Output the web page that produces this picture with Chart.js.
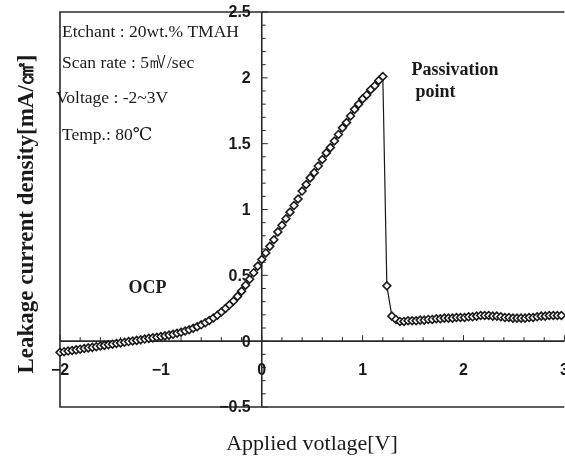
<!DOCTYPE html>
<html>
<head>
<meta charset="utf-8">
<script src="https://cdn.jsdelivr.net/npm/chart.js@4/dist/chart.umd.min.js"></script>
<style>
  html, body { margin: 0; padding: 0; background: #fff; overflow: hidden; }
  #wrap { width: 570px; height: 457px; }
</style>
</head>
<body>
<div id="wrap"><canvas id="chart" width="570" height="457"></canvas></div>
<script>

// OCP-Bereich: -2 V bis knapp 0 V
const rampVoltage = [
  -2.00, -1.96, -1.92, -1.88, -1.84, -1.80, -1.76, -1.72, -1.68, -1.64,
  -1.60, -1.56, -1.52, -1.48, -1.44, -1.40, -1.36, -1.32, -1.28, -1.24,
  -1.20, -1.16, -1.12, -1.08, -1.04, -1.00, -0.96, -0.92, -0.88, -0.84,
  -0.80, -0.76, -0.72, -0.68, -0.64, -0.60, -0.56, -0.52, -0.48, -0.44,
  -0.40, -0.36, -0.32, -0.28, -0.24, -0.20, -0.16, -0.12, -0.08, -0.04,
];
const rampCurrent = [
  -0.085, -0.080, -0.075, -0.071, -0.066, -0.061, -0.056, -0.051, -0.047, -0.042,
  -0.037, -0.032, -0.027, -0.023, -0.018, -0.013, -0.008, -0.003, 0.001, 0.006,
  0.011, 0.016, 0.021, 0.025, 0.030, 0.035, 0.040, 0.046, 0.052, 0.060,
  0.068, 0.077, 0.087, 0.098, 0.110, 0.124, 0.140, 0.157, 0.176, 0.197,
  0.222, 0.248, 0.276, 0.305, 0.340, 0.380, 0.425, 0.470, 0.520, 0.570,
];

// aktiver Bereich bis zum Passivierungspunkt
const activeVoltage = [
  0.00, 0.04, 0.08, 0.12, 0.16, 0.20, 0.24, 0.28, 0.32, 0.36,
  0.40, 0.44, 0.48, 0.52, 0.56, 0.60, 0.64, 0.68, 0.72, 0.76,
  0.80, 0.84, 0.88, 0.92, 0.96, 1.00, 1.04, 1.08, 1.12, 1.16, 1.20,
];
const activeCurrent = [
  0.62, 0.67, 0.72, 0.77, 0.83, 0.88, 0.93, 0.98, 1.03, 1.08,
  1.14, 1.19, 1.24, 1.28, 1.33, 1.38, 1.43, 1.47, 1.52, 1.57,
  1.62, 1.66, 1.71, 1.76, 1.80, 1.84, 1.87, 1.91, 1.94, 1.98, 2.01,
];

// passiver Bereich
const passiveVoltage = [
  1.24, 1.29, 1.33, 1.37, 1.41, 1.45, 1.49, 1.53, 1.57, 1.61,
  1.65, 1.69, 1.73, 1.77, 1.81, 1.85, 1.89, 1.93, 1.97, 2.01,
  2.05, 2.09, 2.13, 2.17, 2.21, 2.25, 2.29, 2.33, 2.37, 2.41,
  2.45, 2.49, 2.53, 2.57, 2.61, 2.65, 2.69, 2.73, 2.77, 2.81,
  2.85, 2.89, 2.93, 2.97,
];
const passiveCurrent = [
  0.42, 0.19, 0.165, 0.150, 0.150, 0.155, 0.155, 0.155, 0.160, 0.160,
  0.165, 0.165, 0.170, 0.170, 0.175, 0.175, 0.175, 0.180, 0.180, 0.180,
  0.185, 0.185, 0.190, 0.195, 0.195, 0.195, 0.190, 0.190, 0.185, 0.180,
  0.180, 0.175, 0.175, 0.175, 0.175, 0.180, 0.180, 0.185, 0.190, 0.190,
  0.195, 0.195, 0.195, 0.195,
];

// ── Achsen ────────────────────────────────────────────────────────────────

const xTickValues = [-2, -1, 0, 1, 2, 3];
const xTickLabels = ['\u22122', '\u22121', '0', '1', '2', '3'];
const yTickValues = [-0.5, 0, 0.5, 1, 1.5, 2, 2.5];
const yTickLabels = ['\u22120.5', '0', '0.5', '1', '1.5', '2', '2.5'];

const xTitle = 'Applied votlage[V]';
const yTitle = 'Leakage current density[mA/\u33A0]';

const notes = [
  { text: 'Etchant : 20wt.% TMAH', x: -1.98, y: 2.31, bold: false },
  { text: 'Scan rate : 5\u33B7/sec', x: -1.98, y: 2.075, bold: false },
  { text: 'Voltage : -2~3V', x: -2.04, y: 1.81, bold: false },
  { text: 'Temp.: 80\u2103', x: -1.98, y: 1.53, bold: false },
  { text: 'Passivation', x: 1.485, y: 2.02, bold: true },
  { text: 'point', x: 1.525, y: 1.855, bold: true },
  { text: 'OCP', x: -1.32, y: 0.365, bold: true },
];

const INK = '#1a1a1a';
const SERIF = '"Liberation Serif", "DejaVu Serif", serif';
const SANS = '"Liberation Sans", Arial, sans-serif';

const toPoints = (xs, ys) => xs.map((x, i) => ({ x, y: ys[i] }));
const points = [
  ...toPoints(rampVoltage, rampCurrent),
  ...toPoints(activeVoltage, activeCurrent),
  ...toPoints(passiveVoltage, passiveCurrent),
];

// ── Rahmen, Achsenkreuz, Beschriftung ─────────────────────────────────────

const axesPlugin = {
  id: 'crossAxes',
  beforeDatasetsDraw(chart) {
    const { ctx, chartArea: a, scales: { x, y } } = chart;
    const x0 = x.getPixelForValue(0);
    const y0 = y.getPixelForValue(0);

    ctx.save();
    ctx.strokeStyle = '#2a2a2a';
    ctx.lineWidth = 1.6;

    // Rahmen (rechts liegt ausserhalb des Bildes)
    ctx.beginPath();
    ctx.moveTo(a.right, a.top);
    ctx.lineTo(a.left, a.top);
    ctx.lineTo(a.left, a.bottom);
    ctx.lineTo(a.right, a.bottom);
    ctx.stroke();

    // Achsen durch den Nullpunkt
    ctx.beginPath();
    ctx.moveTo(a.left, y0);
    ctx.lineTo(a.right, y0);
    ctx.moveTo(x0, a.top);
    ctx.lineTo(x0, a.bottom);
    ctx.stroke();

    // Teilstriche
    ctx.lineWidth = 1;
    ctx.beginPath();
    for (let i = 0; i <= 25; i++) {
      const v = -2 + i * 0.2;
      const px = x.getPixelForValue(v);
      const len = i % 5 === 0 ? 6 : 4;
      ctx.moveTo(px, y0);
      ctx.lineTo(px, y0 - len);
    }
    for (let i = 0; i <= 30; i++) {
      const v = -0.5 + i * 0.1;
      const py = y.getPixelForValue(v);
      const len = i % 5 === 0 ? 6 : 4;
      ctx.moveTo(x0, py);
      ctx.lineTo(x0 + len, py);
    }
    ctx.stroke();

    // Achsenbeschriftung
    ctx.fillStyle = INK;
    ctx.font = 'bold 16px ' + SANS;
    ctx.textAlign = 'center';
    ctx.textBaseline = 'top';
    xTickValues.forEach((v, i) => {
      ctx.fillText(xTickLabels[i], x.getPixelForValue(v), y0 + 21);
    });
    ctx.textAlign = 'right';
    ctx.textBaseline = 'middle';
    yTickValues.forEach((v, i) => {
      ctx.fillText(yTickLabels[i], x0 - 11, y.getPixelForValue(v) + 1);
    });

    // Titel
    ctx.textAlign = 'center';
    ctx.textBaseline = 'alphabetic';
    ctx.font = '22px ' + SERIF;
    ctx.fillText(xTitle, 312, 450);

    ctx.save();
    ctx.translate(33, 214);
    ctx.rotate(-Math.PI / 2);
    ctx.font = 'bold 23px ' + SERIF;
    ctx.fillText(yTitle, 0, 0);
    ctx.restore();

    // Anmerkungen
    ctx.textAlign = 'left';
    notes.forEach(n => {
      ctx.font = (n.bold ? 'bold 18px ' : '17.5px ') + SERIF;
      ctx.fillText(n.text, x.getPixelForValue(n.x), y.getPixelForValue(n.y));
    });
    ctx.restore();
  },
};

new Chart(document.getElementById('chart'), {
  type: 'scatter',
  data: {
    datasets: [{
      data: points,
      showLine: true,
      borderColor: INK,
      borderWidth: 1.2,
      pointStyle: 'rectRot',
      pointRadius: 3.9,
      pointBackgroundColor: '#fff',
      pointBorderColor: INK,
      pointBorderWidth: 1.6,
      clip: false,
    }],
  },
  options: {
    responsive: false,
    animation: false,
    layout: { padding: { left: 60, top: 12, right: 4, bottom: 50 } },
    plugins: { legend: { display: false }, tooltip: { enabled: false } },
    scales: {
      x: { type: 'linear', min: -2, max: 3, display: false },
      y: { type: 'linear', min: -0.5, max: 2.5, display: false },
    },
  },
  plugins: [axesPlugin],
});
</script>
</body>
</html>
